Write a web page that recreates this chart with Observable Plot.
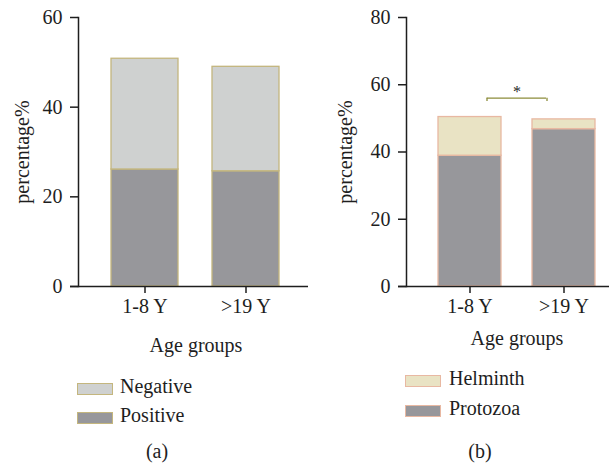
<!DOCTYPE html>
<html><head><meta charset="utf-8">
<script src="https://cdn.jsdelivr.net/npm/d3@7"></script>
<script src="https://cdn.jsdelivr.net/npm/@observablehq/plot@0.6"></script>
<style>
body{margin:0;background:#fff;}
#wrap{position:relative;width:609px;height:466px;font-family:"Liberation Serif",serif;color:#1e1e1e;overflow:hidden;}
.p{position:absolute;top:0;}
.t{position:absolute;font-family:"Liberation Serif",serif;font-size:20px;line-height:20px;white-space:nowrap;}
.sw{position:absolute;box-sizing:border-box;border-width:1.5px;border-style:solid;}
</style></head><body><div id="wrap"></div>
<script>
// ---- data ----
const groups = ["1-8 Y", ">19 Y"];
const seriesA = ["Positive", "Negative"];
const positiveA = [26.1, 25.7];
const negativeA = [24.7, 23.3];
const seriesB = ["Protozoa", "Helminth"];
const protozoaB = [38.9, 46.8];
const helminthB = [11.5, 2.9];
const ticksA = [0, 20, 40, 60];
const ticksB = [0, 20, 40, 60, 80];
const sigY = 56;
const sigLabel = "*";
const xTitle = "Age groups";
const yTitle = "percentage%";

// ---- styles ----
const ink = "#1e1e1e";
const colorsA = ["#97979b", "#cfd1d0"];
const strokeA = "#c4b67e";
const colorsB = ["#97979b", "#e9e3c4"];
const strokeB = "#e8b8a2";
const sigColor = "#8c8c3a";
const font = '"Liberation Serif", serif';

const dataA = groups.flatMap((g, i) => [
  {group: g, type: seriesA[0], value: positiveA[i]},
  {group: g, type: seriesA[1], value: negativeA[i]}
]);
const dataB = groups.flatMap((g, i) => [
  {group: g, type: seriesB[0], value: protozoaB[i]},
  {group: g, type: seriesB[1], value: helminthB[i]}
]);

const baseStyle = {fontFamily: font, fontSize: "20px", color: ink, background: "transparent", overflow: "visible"};

const plotA = Plot.plot({
  width: 310, height: 320, marginLeft: 78, marginRight: 2, marginTop: 17, marginBottom: 34,
  style: baseStyle,
  x: {domain: groups, paddingInner: 0.337, paddingOuter: 0.307, align: 0.53, axis: null},
  y: {domain: [0, 60], axis: null},
  color: {domain: seriesA, range: colorsA},
  marks: [
    Plot.barY(dataA, {x: "group", y: "value", fill: "type", stroke: strokeA, strokeWidth: 1.3}),
    Plot.axisX({tickSize: 7, tickPadding: 5, label: null, stroke: ink, strokeWidth: 1.5}),
    Plot.axisY({ticks: ticksA, tickSize: 8, tickPadding: 8, label: yTitle, labelAnchor: "center", labelArrow: "none", labelOffset: 64, stroke: ink, strokeWidth: 1.5}),
    Plot.ruleY([0], {insetLeft: -8, stroke: ink, strokeWidth: 1.5}),
    Plot.frame({anchor: "left", stroke: ink, strokeWidth: 1.5})
  ]
});

const plotB = Plot.plot({
  width: 289, height: 320, marginLeft: 86, marginRight: 0, marginTop: 17, marginBottom: 34,
  style: baseStyle,
  x: {domain: groups, paddingInner: 0.335, paddingOuter: 0.239, align: 0.685, axis: null},
  y: {domain: [0, 80], axis: null},
  color: {domain: seriesB, range: colorsB},
  marks: [
    Plot.barY(dataB, {x: "group", y: "value", fill: "type", stroke: strokeB, strokeWidth: 1.3}),
    Plot.axisX({tickSize: 7, tickPadding: 5, label: null, stroke: ink, strokeWidth: 1.5}),
    Plot.axisY({ticks: ticksB, tickSize: 8, tickPadding: 8, label: yTitle, labelAnchor: "center", labelArrow: "none", labelOffset: 69, stroke: ink, strokeWidth: 1.5}),
    Plot.ruleY([0], {insetLeft: -8, stroke: ink, strokeWidth: 1.5}),
    Plot.frame({anchor: "left", stroke: ink, strokeWidth: 1.5}),
    Plot.ruleY([sigY], {x1: () => groups[0], x2: () => groups[1], insetLeft: 48.7, insetRight: 49, stroke: sigColor, strokeWidth: 1.3}),
    Plot.ruleX([groups[0]], {x: d => d, y1: sigY - 1, y2: sigY, dx: 17, stroke: sigColor, strokeWidth: 1.3}),
    Plot.ruleX([groups[1]], {x: d => d, y1: sigY - 1, y2: sigY, dx: -17, stroke: sigColor, strokeWidth: 1.3}),
    Plot.text([sigLabel], {x: () => groups[0], y: () => sigY, dx: 47, dy: -6, text: d => d, fontSize: 16, fill: ink})
  ]
});

const wrap = document.getElementById("wrap");
plotA.classList.add("p"); plotA.style.left = "0px";
plotB.classList.add("p"); plotB.style.left = "320px";
wrap.appendChild(plotA);
wrap.appendChild(plotB);

// text helpers (position by baseline)
function addText(str, x, baseline, center) {
  const d = document.createElement("div");
  d.className = "t";
  d.textContent = str;
  d.style.top = (baseline - 16.75) + "px";
  d.style.left = x + "px";
  if (center) d.style.transform = "translateX(-50%)";
  wrap.appendChild(d);
}
function addSwatch(x, y, fill, stroke) {
  const s = document.createElement("div");
  s.className = "sw";
  Object.assign(s.style, {left: x + "px", top: y + "px", width: "36px", height: "12px", background: fill, borderColor: stroke});
  wrap.appendChild(s);
}
addText(xTitle, 196, 352, true);
addText(xTitle, 517, 345, true);
// legend (a): top entry is the upper stack segment
addSwatch(77, 383, colorsA[1], strokeA); addText(seriesA[1], 120, 393);
addSwatch(77, 412, colorsA[0], strokeA); addText(seriesA[0], 120, 422);
addSwatch(405, 375, colorsB[1], strokeB); addText(seriesB[1], 449, 385);
addSwatch(405, 405, colorsB[0], strokeB); addText(seriesB[0], 449, 415);
addText("(a)", 157, 458, true);
addText("(b)", 480, 458, true);
</script></body></html>
